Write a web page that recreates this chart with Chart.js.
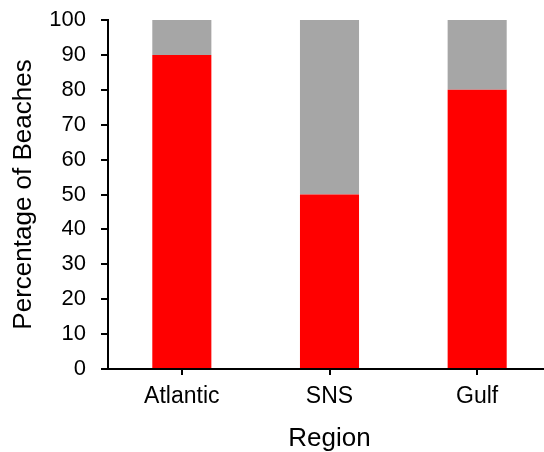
<!DOCTYPE html>
<html>
<head>
<meta charset="utf-8">
<script src="https://cdn.jsdelivr.net/npm/chart.js@4/dist/chart.umd.min.js"></script>
<style>
  html, body { margin: 0; padding: 0; overflow: hidden; background: #fff; }
  #wrap { width: 552px; height: 452px; }
</style>
</head>
<body>
<div id="wrap"><canvas id="beachChart" width="552" height="452"></canvas></div>
<script>
// Datos
const regions = ['Atlantic', 'SNS', 'Gulf'];
const redValues = [90, 50, 80];   // parte roja
const greyValues = [10, 50, 20];  // resto hasta 100

const fontFamily = '"Liberation Sans", Arial, sans-serif';

const ctx = document.getElementById('beachChart').getContext('2d');
new Chart(ctx, {
  type: 'bar',
  data: {
    labels: regions,
    datasets: [
      {
        label: 'Red',
        data: redValues,
        backgroundColor: '#ff0000',
        barPercentage: 0.4,
        categoryPercentage: 1
      },
      {
        label: 'Grey',
        data: greyValues,
        backgroundColor: '#a6a6a6',
        barPercentage: 0.4,
        categoryPercentage: 1
      }
    ]
  },
  options: {
    responsive: false,
    animation: false,
    layout: { padding: { left: 0, right: 1, top: 20, bottom: 0 } },
    plugins: {
      legend: { display: false },
      tooltip: { enabled: false }
    },
    scales: {
      x: {
        stacked: true,
        grid: {
          offset: false,
          drawOnChartArea: false,
          drawTicks: true,
          tickLength: 6,
          color: '#000',
          lineWidth: 2
        },
        border: { display: true, color: '#000', width: 2 },
        ticks: {
          color: '#000',
          padding: 8,
          maxRotation: 0,
          font: { family: fontFamily, size: 23 }
        },
        title: {
          display: true,
          text: 'Region',
          color: '#000',
          padding: { top: 0, bottom: 0 },
          font: { family: fontFamily, size: 26, lineHeight: 1 }
        },
        afterFit: function(scale) {
          scale.height = 83;
          scale.paddingLeft = 0;
          scale.paddingRight = 0;
        }
      },
      y: {
        stacked: true,
        min: 0,
        max: 100,
        grid: {
          drawOnChartArea: false,
          drawTicks: true,
          tickLength: 7,
          color: '#000',
          lineWidth: 2
        },
        border: { display: true, color: '#000', width: 2 },
        ticks: {
          stepSize: 10,
          color: '#000',
          padding: 15,
          font: { family: fontFamily, size: 22 }
        },
        title: {
          display: true,
          text: 'Percentage of Beaches',
          color: '#000',
          padding: { top: 11, bottom: 0 },
          font: { family: fontFamily, size: 26, lineHeight: 1 }
        },
        afterFit: function(scale) {
          scale.width = 108;
          scale.paddingTop = 0;
          scale.paddingBottom = 0;
        }
      }
    }
  }
});
</script>
</body>
</html>
